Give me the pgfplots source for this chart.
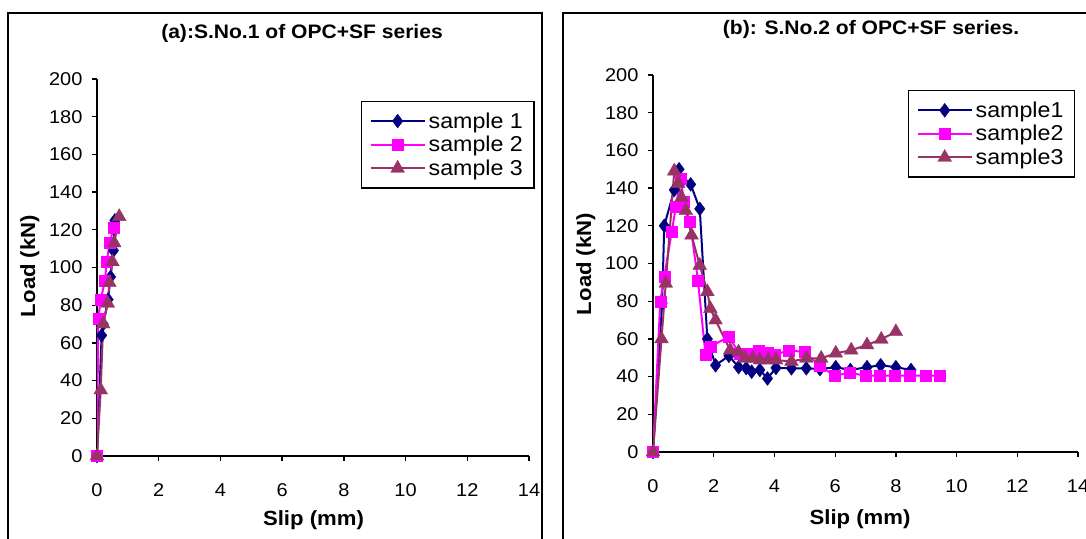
\documentclass[border=0pt]{standalone}
\usepackage{pgfplots}
\pgfplotsset{compat=1.18}
\usepackage{fontspec}
\setmainfont{Liberation Sans}[FakeStretch=1.08]
\definecolor{sa}{RGB}{0,0,128}
\definecolor{sb}{RGB}{255,0,255}
\definecolor{sc}{RGB}{153,51,102}
\newcommand{\tickfont}{\fontsize{18.5}{20}\selectfont}
\newcommand{\legfont}{\fontsize{21.5}{22}\selectfont}
\newcommand{\labfont}{\fontsize{20.5}{22}\selectfont\bfseries}
\pgfplotsset{
  myax/.style={
    scale only axis,
    xmin=0, xmax=14, ymin=0, ymax=200,
    xtick={0,2,...,14}, ytick={0,20,...,200},
    axis x line*=bottom, axis y line*=left,
    axis line style={line width=1.6pt, black},
    tick align=outside, major tick length=5pt,
    every tick/.style={black, line width=1.3pt},
    tick label style={font=\tickfont},
    /pgf/number format/assume math mode=true,
    xticklabel style={yshift=-19pt},
    yticklabel style={xshift=-6pt},
    legend cell align=left,
    legend image code/.code={\draw[mark repeat=2,mark phase=2] plot coordinates {(0pt,0pt)(27pt,0pt)(54pt,0pt)};},
    legend style={draw=black, line width=1.4pt, font=\legfont, fill=white,
      inner xsep=8pt, inner ysep=11pt, row sep=6.5pt,
      nodes={inner ysep=0pt, inner xsep=3pt}},
  },
  s1/.style={color=sa, line width=2pt, mark=diamond*, mark size=7pt, mark options={solid, fill=sa, draw=sa, line width=0.3pt}},
  s2/.style={color=sb, line width=2pt, mark=square*, mark size=5.5pt, mark options={solid, fill=sb, draw=sb, line width=0.3pt}},
  s3/.style={color=sc, line width=2pt, mark=triangle*, mark size=8pt, mark options={solid, fill=sc, draw=sc, line width=0.3pt}},
}
\begin{document}
\begin{tikzpicture}[x=1pt,y=1pt]
\useasboundingbox (0,0) rectangle (1086,538);
\fill[white] (0,0) rectangle (1086,538);
% frames
\draw[line width=2pt] (8,-10) -- (8,525) -- (542,525) -- (542,-10);
\draw[line width=2pt] (563,-10) -- (563,525) -- (1100,525);
% panel (a)
\begin{axis}[myax, at={(97pt,82pt)}, anchor=south west, width=432pt, height=377pt,
  legend style={at={(0.611,0.942)}, anchor=north west}]
\addplot[s1] coordinates {(0,0) (0.15,64) (0.2,70) (0.36,83) (0.44,95) (0.53,109) (0.58,125)};
\addplot[s2] coordinates {(0,0) (0.04,73) (0.12,83) (0.26,93) (0.31,103) (0.42,113) (0.53,121)};
\addplot[s3] coordinates {(0,0) (0.12,35) (0.2,70) (0.35,81) (0.4,92) (0.5,103) (0.56,113) (0.72,127)};
\legend{sample 1, sample 2, sample 3}
\end{axis}
% panel (b)
\begin{axis}[myax, at={(653pt,86pt)}, anchor=south west, width=425pt, height=377pt,
  legend style={at={(0.6,0.96)}, anchor=north west}]
\addplot[s1] coordinates {(0,0) (0.3,79) (0.37,120) (0.7,139) (0.86,150) (0.97,144) (1.24,142) (1.54,129) (1.79,60) (2.06,46) (2.5,51) (2.82,45) (3.07,44.5) (3.25,42.6) (3.52,43.5) (3.77,39) (4.05,44.6) (4.56,44.4) (5.05,44.4) (5.5,44) (6.02,45) (6.5,43.5) (7.05,45) (7.5,46) (8.0,45) (8.5,43.5)};
\addplot[s2] coordinates {(0,0) (0.24,80) (0.37,93) (0.62,117) (0.75,130) (0.91,145) (1.02,133) (1.22,122) (1.48,91) (1.73,51.5) (1.89,56) (2.49,61) (2.87,52) (3.15,52) (3.47,53.6) (3.77,52.7) (4.01,51.5) (4.48,54) (4.99,53) (5.48,46) (5.97,40.5) (6.48,42) (7.0,40.5) (7.45,40.5) (7.95,40.5) (8.45,40.5) (8.98,40.5) (9.45,40.5)};
\addplot[s3] coordinates {(0,0) (0.28,60) (0.42,89.5) (0.7,149) (0.83,142.5) (0.94,135) (1.08,128) (1.27,115) (1.54,99) (1.79,85) (1.89,76) (2.06,70) (2.54,54) (2.82,53) (3.03,49.7) (3.29,49.7) (3.52,48.8) (3.8,48.8) (4.05,48.8) (4.56,48) (5.05,49.7) (5.54,49.7) (6.02,52.4) (6.53,54) (7.05,56.8) (7.52,59.8) (8.0,63.8)};
\legend{sample1, sample2, sample3}
\end{axis}
% titles and labels
\node[anchor=base, font=\fontsize{19.5}{21}\selectfont\bfseries] at (302,499) {(a):S.No.1 of OPC+SF series};
\node[anchor=base, font=\fontsize{19.5}{21}\selectfont\bfseries] at (871,503) {(b): S.No.2 of OPC+SF series.};
\node[anchor=base, font=\labfont] at (313.5,12.5) {Slip (mm)};
\node[anchor=base, font=\labfont] at (860,13.5) {Slip (mm)};
\node[anchor=base, rotate=90, font=\labfont] at (35,272) {Load (kN)};
\node[anchor=base, rotate=90, font=\labfont] at (591,274) {Load (kN)};
\end{tikzpicture}
\end{document}
